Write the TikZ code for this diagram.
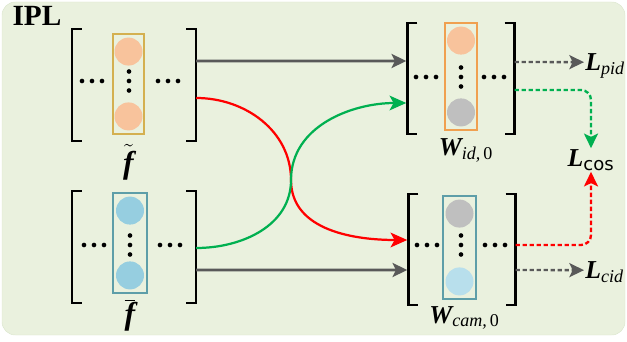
\documentclass[tikz,border=0pt]{standalone}
\usepackage{fontspec}
\setmainfont{Liberation Serif}
\setsansfont{DejaVu Sans}
\usetikzlibrary{arrows.meta,positioning}
\definecolor{iplbg}{HTML}{EAF1DE}
\definecolor{ipledge}{HTML}{DCE6CE}
\definecolor{iplgray}{HTML}{595959}
\definecolor{iplred}{HTML}{FF0000}
\definecolor{iplgreen}{HTML}{00B050}
\definecolor{iplgold}{HTML}{D4B050}
\definecolor{iplorange}{HTML}{F0A050}
\definecolor{iplteal}{HTML}{5E9EA8}
\definecolor{peach}{HTML}{F8C39C}
\definecolor{skyblue}{HTML}{96CEE0}
\definecolor{paleblue}{HTML}{B8DFEC}
\definecolor{cellgray}{HTML}{BFBFBF}

\begin{document}
\begin{tikzpicture}[x=0.03cm,y=0.03cm,
    mat/.style={minimum height=3.33cm,inner sep=0pt},
    brk/.style={line width=2pt,black},
    col/.style={draw=#1,line width=1.1pt,minimum width=0.96cm,minimum height=3.05cm,inner sep=0pt},
    cell/.style={circle,fill=#1,minimum size=0.84cm,inner sep=0pt},
    lbl/.style={font=\fontsize{22}{26}\selectfont\bfseries\itshape,inner sep=1pt},
    flbl/.style={font=\fontsize{27}{30}\selectfont,inner sep=1pt},
    garr/.style={-{Stealth[length=4.4mm,width=4.2mm,inset=1mm]},iplgray,line width=2.4pt,shorten >=1pt},
    carr/.style={-{Stealth[length=5mm,width=4.4mm,inset=1.2mm]},line width=1.9pt,shorten >=1pt},
    darr/.style={-{Stealth[length=4.4mm,width=4.2mm,inset=1mm]},line width=2pt,
      dash pattern=on 1.3mm off 0.8mm,rounded corners=3mm}]
  \useasboundingbox (0,0) rectangle (627,341);
  \fill[iplbg,draw=ipledge,rounded corners=4mm] (2,6) rectangle (625,339);
  \node[font=\fontsize{25}{30}\selectfont\bfseries] (ipl) at (37,325) {IPL};

  \node[mat,minimum width=3.72cm] (ft) at (134,256) {};
  \node[mat,minimum width=3.72cm] (fb) at (134,94) {};
  \node[mat,minimum width=3.2cm] (wid) at (461,262.5) {};
  \node[mat,minimum width=3.2cm] (wcam) at (462,91.5) {};
  \foreach \m in {ft,fb,wid,wcam}
    \draw[brk] ([xshift=3mm]\m.north west) -- (\m.north west) -- (\m.south west) -- ([xshift=3mm]\m.south west)
      ([xshift=-3mm]\m.north east) -- (\m.north east) -- (\m.south east) -- ([xshift=-3mm]\m.south east);

  \node[col=iplgold,minimum width=0.93cm,minimum height=3cm] (ftcol) at (128.5,257) {};
  \node[col=iplteal,minimum width=1.02cm,minimum height=3cm] (fbcol) at (130,98) {};
  \node[col=iplorange,minimum height=3.21cm] (widcol) at (461,264.5) {};
  \node[col=iplteal,minimum width=0.99cm,minimum height=3.09cm] (wcamcol) at (459.5,93.5) {};
  \foreach \c/\up/\dn in {ftcol/peach/peach,fbcol/skyblue/skyblue,widcol/peach/cellgray,wcamcol/cellgray/paleblue}{
    \node[cell=\up,below=1.2mm of \c.north] (\c top) {};
    \node[cell=\dn,above=1.2mm of \c.south] (\c bot) {};
  }
  \foreach \cx/\cy/\l/\r in {129/260/82/158,130/96/84/160,461/264/416/484,461/96/417/485}{
    \foreach \d in {0,10,20}{
      \fill (\l+\d,\cy) circle (2pt);
      \fill (\r+\d,\cy) circle (2pt);
    }
    \foreach \d in {-9.5,0,9.5} \fill (\cx,\cy+\d) circle (2pt);
  }

  \node[flbl,below=2.6mm of ftcol] (ftl) {$\tilde{\mbox{\bfseries\itshape f}}$};
  \node[flbl,below=1.4mm of fbcol] (fbl) {$\overline{\mbox{\bfseries\itshape f}}$};
  \node[lbl,below=2mm of widcol,xshift=1.5mm] (widl) {W\textsubscript{\mdseries id,\,\upshape 0}};
  \node[lbl,below=1.6mm of wcamcol,xshift=1.5mm] (wcaml) {W\textsubscript{\mdseries cam,\,\upshape 0}};
  \node[lbl,anchor=base west] (lpid) at (584,270.5) {L\textsubscript{\mdseries pid}};
  \node[lbl] (lcos) at (591,181) {L\textsubscript{\sffamily\upshape\mdseries cos}};
  \node[lbl,anchor=base west] (lcid) at (584,62.5) {L\textsubscript{\mdseries cid}};

  \coordinate (cross) at (291,161);
  \draw[garr] ([yshift=7.2mm]ft.east) -- ([yshift=5.25mm]wid.west);
  \draw[garr] ([yshift=-6.9mm]fb.east) -- ([yshift=-6.15mm]wcam.west);
  \draw[carr,iplred] ([yshift=-3.9mm]ft.east) to[out=0,in=90] (cross) to[out=-90,in=180] ([yshift=2.85mm]wcam.west);
  \draw[carr,iplgreen] ([yshift=-0.3mm]fb.east) to[out=0,in=-90] (cross) to[out=90,in=180] ([yshift=-7.35mm]wid.west);
  \draw[darr,iplgray] ([yshift=4.95mm]wid.east) -- ([yshift=2.5mm]lpid.base west);
  \draw[darr,iplgreen] ([yshift=-3.45mm]wid.east) -| (lcos.north);
  \draw[darr,iplred] ([yshift=1.35mm]wcam.east) -| (lcos.south);
  \draw[darr,iplgray] ([yshift=-6.15mm]wcam.east) -- ([yshift=2.5mm]lcid.base west);
\end{tikzpicture}
\end{document}
